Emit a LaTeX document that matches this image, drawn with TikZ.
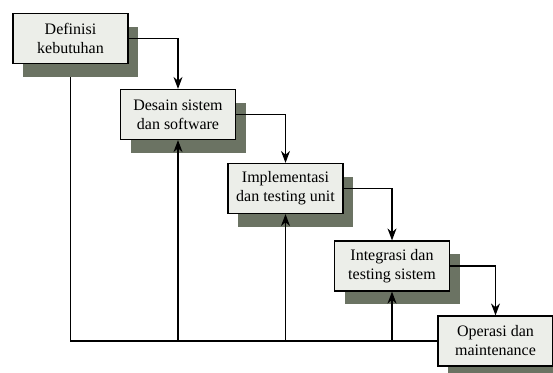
\documentclass[tikz,border=0pt]{standalone}
\usepackage{fontspec}
\setmainfont{Liberation Serif}
\usetikzlibrary{arrows.meta,shadows,backgrounds}
\definecolor{boxfill}{HTML}{ECEEE9}
\definecolor{shadowgray}{HTML}{6B7363}

\begin{document}
\begin{tikzpicture}[x=1pt,y=-1pt,
	tahap/.style={draw=black,line width=1.2pt,fill=boxfill,align=center,
		minimum width=115pt,minimum height=50pt,inner sep=2pt,
		font=\fontsize{16}{19}\selectfont,
		drop shadow={shadow xshift=10pt,shadow yshift=-13pt,fill=shadowgray,opacity=1}},
	alur/.style={line width=1.2pt,-{Stealth[length=12pt,width=9pt]}}]
	\useasboundingbox (0,0) rectangle (553,372);
	\node[tahap] (def) at (70.5,38.5) {Definisi\\kebutuhan};
	\node[tahap] (desain) at (178,114.5) {Desain sistem\\dan software};
	\node[tahap] (impl) at (285.5,188.5) {Implementasi\\dan testing unit};
	\node[tahap] (integ) at (392,266) {Integrasi dan\\testing sistem};
	\node[tahap] (ops) at (495.5,341) {Operasi dan\\maintenance};
	% alur maju
	\draw[alur] (def.east) -| (desain.north);
	\draw[alur] (desain.east) -| (impl.north);
	\draw[alur] (impl.east) -| (integ.north);
	\draw[alur] (integ.east) -| (ops.north);
	% umpan balik
	\begin{scope}[on background layer]
		\draw[line width=1.2pt] (ops.west) -| (def.south);
	\end{scope}
	\draw[alur] (desain.south |- ops.west) -- (desain.south);
	\draw[alur] (impl.south |- ops.west) -- (impl.south);
	\draw[alur] (integ.south |- ops.west) -- (integ.south);
\end{tikzpicture}
\end{document}
